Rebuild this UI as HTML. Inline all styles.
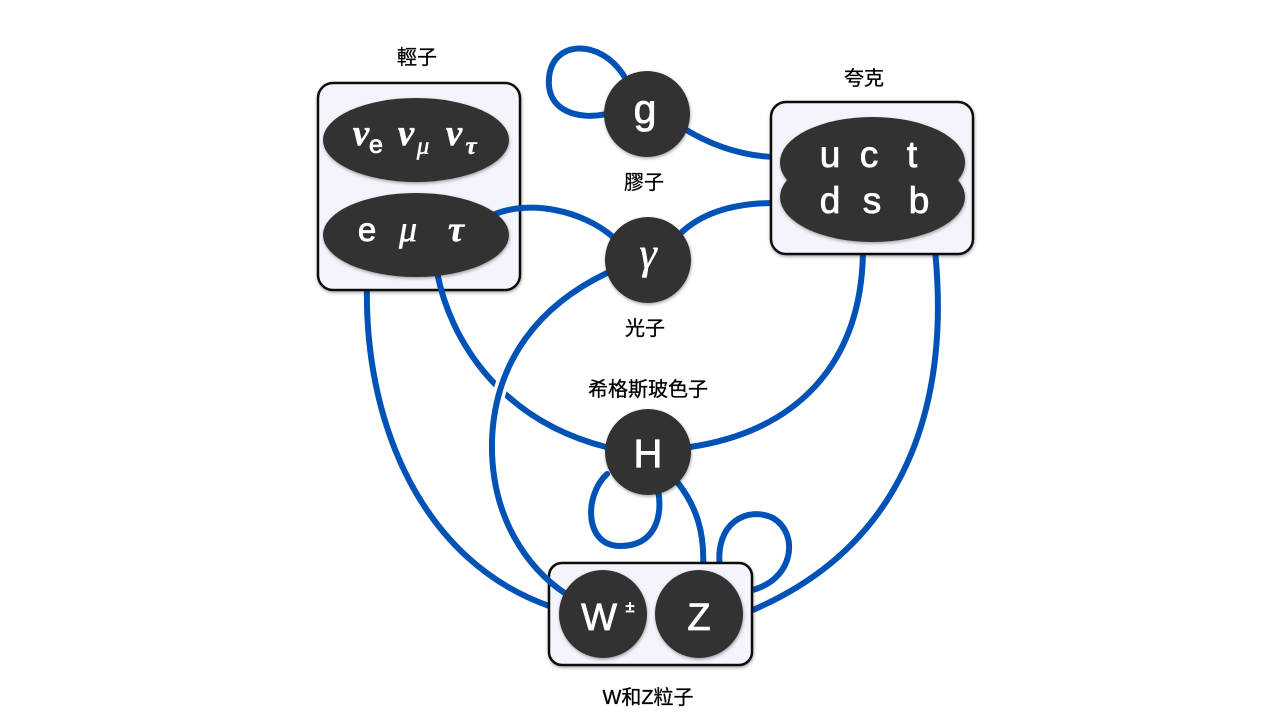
<!DOCTYPE html>
<html>
<head>
<meta charset="utf-8">
<style>
  html,body{margin:0;padding:0;background:#fff;}
  body{width:1280px;height:720px;overflow:hidden;}
  svg{display:block;}
  .lbl{font-family:"Liberation Sans","Noto Sans CJK TC",sans-serif;font-size:20px;fill:#000;stroke:#000;stroke-width:0.3;}
  .sans{font-family:"Liberation Sans",sans-serif;fill:#fff;stroke:#fff;stroke-width:0.8;}
  .serif{font-family:"Liberation Serif",serif;fill:#fff;stroke:#fff;stroke-width:0.5;}
</style>
</head>
<body>
<svg width="1280" height="720" viewBox="0 0 1280 720" xmlns="http://www.w3.org/2000/svg">
  <defs>
    <filter id="sh" x="-20%" y="-20%" width="140%" height="140%">
      <feDropShadow dx="0.5" dy="1.5" stdDeviation="1.5" flood-color="#000" flood-opacity="0.35"/>
    </filter>
  </defs>

  <!-- Lines under boxes -->
  <g fill="none" stroke="#0052b6" stroke-width="6" stroke-linecap="round">
    <path d="M 624,76 C 600,38 552,40 549,78 C 546,112 580,120 606,114"/>
    <path d="M 683,128 C 712,146 742,156 775,157"/>
    <path d="M 682,232 C 706,210 740,203 775,203"/>
    <path d="M 863,250 C 862,368 792,432 690,447"/>
    <path d="M 935,250 C 948,380 922,540 748,612"/>
    <path d="M 367,285 C 364,420 420,562 552,607"/>
    <path d="M 607,474 C 584,495 584,546 620,546 C 656,546 663,515 658,490"/>
    <path d="M 678,483 C 696,506 705,532 703,568"/>
    <path d="M 720,568 C 714,522 748,506 773,518 C 800,534 794,582 748,591"/>
  </g>

  <!-- Boxes -->
  <rect x="318" y="83" width="202" height="207" rx="15" ry="15" fill="#f4f4fc" stroke="#111" stroke-width="2.5" filter="url(#sh)"/>
  <rect x="771" y="102" width="202" height="152" rx="15" ry="15" fill="#f4f4fc" stroke="#111" stroke-width="2.5" filter="url(#sh)"/>
  <rect x="549" y="563" width="203" height="102" rx="13" ry="13" fill="#f4f4fc" stroke="#111" stroke-width="2.5" filter="url(#sh)"/>

  <!-- Lines over boxes -->
  <g fill="none" stroke-linecap="round">
    <path d="M 495,214 C 530,200 582,210 613,237" stroke="#0052b6" stroke-width="6"/>
    <path d="M 437,272 C 450,340 500,420 606,447" stroke="#0052b6" stroke-width="6"/>
    <path d="M 607,273 C 540,305 495,360 492,440" stroke="#fff" stroke-width="13"/>
    <path d="M 607,273 C 540,305 495,360 492,440 C 490,520 530,570 566,594" stroke="#0052b6" stroke-width="6"/>
  </g>

  <!-- Dark shapes -->
  <g fill="#333" filter="url(#sh)">
    <ellipse cx="416" cy="140" rx="93" ry="42"/>
    <ellipse cx="416" cy="235" rx="93" ry="42"/>
    <circle cx="647" cy="114" r="43"/>
    <circle cx="648" cy="260" r="43"/>
    <circle cx="648" cy="452" r="43"/>
    <circle cx="603" cy="614" r="44"/>
    <circle cx="699" cy="614" r="44"/>
  </g>
  <g fill="#333" filter="url(#sh)">
    <path d="M 780,162 A 92.5,45 0 0 1 965,162 A 92.5,45 0 0 1 958,180 A 92.5,45 0 0 1 965,197 A 92.5,45 0 0 1 780,197 A 92.5,45 0 0 1 787,180 A 92.5,45 0 0 1 780,162 Z"/>
  </g>

  <!-- neutrinos -->
  <text class="serif" x="361" y="145" font-size="37" font-style="italic" font-weight="bold" text-anchor="middle">ν</text>
  <text class="sans" x="376" y="153" font-size="25" text-anchor="middle">e</text>
  <text class="serif" x="406" y="145" font-size="37" font-style="italic" font-weight="bold" text-anchor="middle">ν</text>
  <text class="serif" x="423" y="154" font-size="25" font-style="italic" text-anchor="middle">μ</text>
  <text class="serif" x="454" y="145" font-size="37" font-style="italic" font-weight="bold" text-anchor="middle">ν</text>
  <text class="serif" x="471" y="154" font-size="25" font-style="italic" font-weight="bold" text-anchor="middle">τ</text>
  <!-- charged leptons -->
  <text class="sans" x="367" y="241" font-size="33" text-anchor="middle">e</text>
  <text class="serif" x="408" y="241" font-size="36" font-style="italic" text-anchor="middle">μ</text>
  <text class="serif" x="456" y="241" font-size="36" font-style="italic" font-weight="bold" text-anchor="middle">τ</text>

  <!-- quarks -->
  <text class="sans" font-size="37" text-anchor="middle">
    <tspan x="830" y="167">u</tspan><tspan x="869" y="167">c</tspan><tspan x="912" y="167">t</tspan>
  </text>
  <text class="sans" font-size="37" text-anchor="middle">
    <tspan x="830" y="213">d</tspan><tspan x="872" y="213">s</tspan><tspan x="919" y="213">b</tspan>
  </text>

  <!-- bosons -->
  <text class="sans" x="645" y="123" font-size="41" text-anchor="middle">g</text>
  <text class="serif" x="648" y="268" font-size="44" font-style="italic" text-anchor="middle">γ</text>
  <text class="sans" x="648" y="467" font-size="40" text-anchor="middle">H</text>
  <text class="sans" x="599" y="630" font-size="38" text-anchor="middle">W</text>
  <text class="sans" x="630" y="612" font-size="16" text-anchor="middle">±</text>
  <text class="sans" x="699" y="630" font-size="38" text-anchor="middle">Z</text>

  <!-- Labels -->
  <text class="lbl" x="417" y="64" text-anchor="middle">輕子</text>
  <text class="lbl" x="644" y="189" text-anchor="middle">膠子</text>
  <text class="lbl" x="864" y="85" text-anchor="middle">夸克</text>
  <text class="lbl" x="645" y="335" text-anchor="middle">光子</text>
  <text class="lbl" x="648" y="396" text-anchor="middle">希格斯玻色子</text>
  <text class="lbl" x="648" y="704" text-anchor="middle">W和Z粒子</text>
</svg>
</body>
</html>
